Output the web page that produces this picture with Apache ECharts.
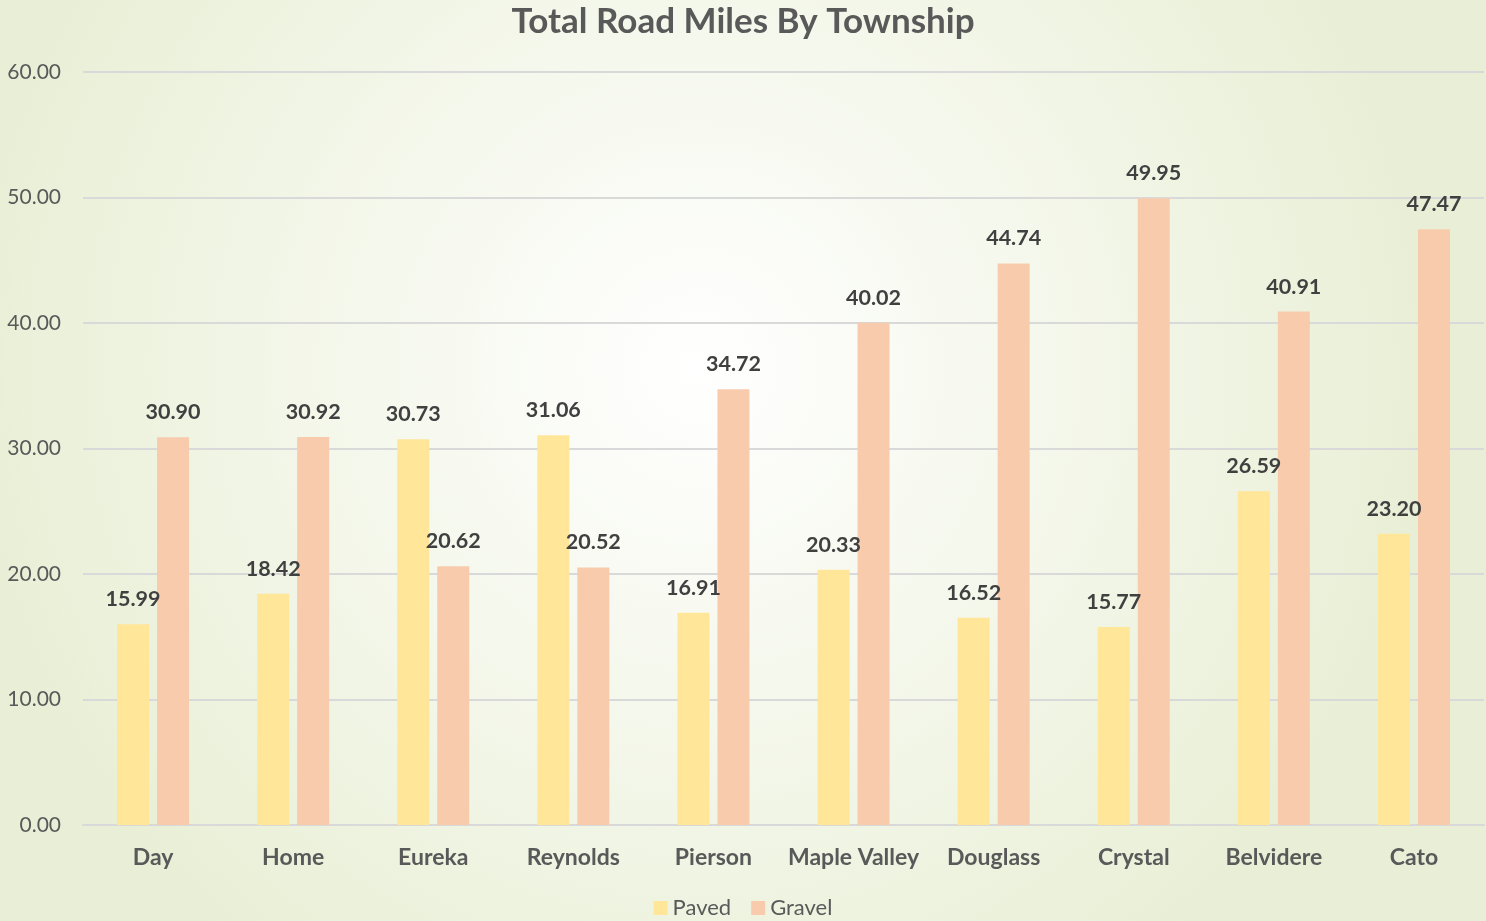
<!DOCTYPE html>
<html><head><meta charset="utf-8">
<script src="https://cdn.jsdelivr.net/npm/echarts@6/dist/echarts.min.js"></script>
<style>html,body{margin:0;padding:0;}#c{width:1486px;height:921px;}</style>
</head><body><div id="c"></div>
<script>
const categories = ['Day','Home','Eureka','Reynolds','Pierson','Maple Valley','Douglass','Crystal','Belvidere','Cato'];
const paved = [15.99,18.42,30.73,31.06,16.91,20.33,16.52,15.77,26.59,23.20];
const gravel = [30.90,30.92,20.62,20.52,34.72,40.02,44.74,49.95,40.91,47.47];
const yTicks = [0,10,20,30,40,50,60];

const font = 'Lato, "Open Sans", sans-serif';
const chart = echarts.init(document.getElementById('c'));
const lbl = {show:true, position:'top', distance:14, fontFamily:font, fontWeight:'bold', fontSize:21.5, color:'#404040', formatter:p=>p.value.toFixed(2)};
chart.setOption({
  backgroundColor:{type:'radial', x:0.47, y:0.4, r:0.8, colorStops:[{offset:0,color:'#ffffff'},{offset:1,color:'#e9efd6'}]},
  title:{text:'Total Road Miles By Township', left:'center', top:-1, textStyle:{fontFamily:font, fontWeight:'bold', fontSize:35, color:'#595959'}},
  legend:{bottom:-3, left:'center', itemWidth:14, itemHeight:14, itemGap:20, icon:'rect', textStyle:{fontFamily:font, fontSize:22, color:'#595959'}, data:['Paved','Gravel']},
  grid:{left:83, right:2, top:72, bottom:96, containLabel:false},
  xAxis:{type:'category', data:categories, axisLine:{lineStyle:{color:'#d9d9d9', width:2}}, axisTick:{show:false},
    axisLabel:{interval:0, fontFamily:font, fontWeight:'bold', fontSize:23, color:'#595959', margin:21}},
  yAxis:{type:'value', min:yTicks[0], max:yTicks[yTicks.length-1], interval:10,
    axisLabel:{fontFamily:font, fontSize:21, color:'#595959', margin:22, formatter:v=>v.toFixed(2)},
    splitLine:{lineStyle:{color:'#d9d9d9', width:2}}, axisLine:{show:false}},
  series:[
    {name:'Paved', type:'bar', data:paved, barWidth:32, barGap:'25%', itemStyle:{color:'#FFE699'}, label:lbl},
    {name:'Gravel', type:'bar', data:gravel, barWidth:32, itemStyle:{color:'#F8CBAD'}, label:lbl}
  ]
});
</script></body></html>
